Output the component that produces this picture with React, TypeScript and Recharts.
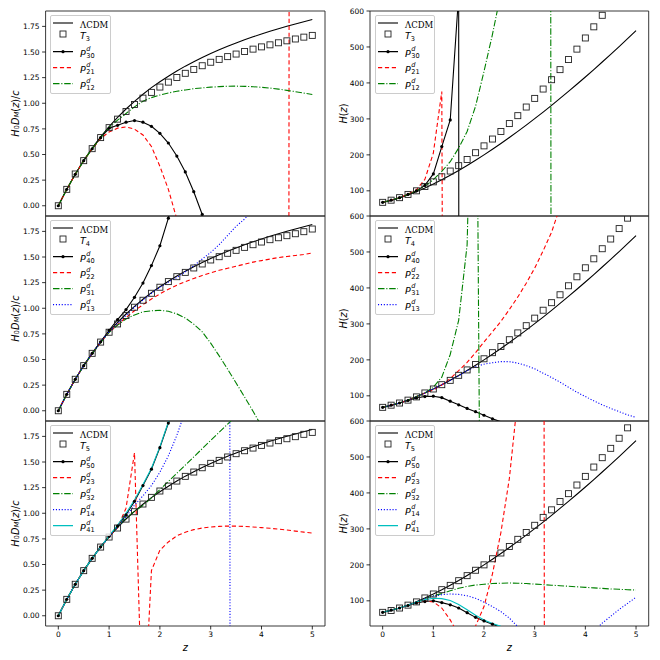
import { ComposedChart, Legend, Line, ReferenceArea, XAxis, YAxis } from "recharts";

const SANS = '"DejaVu Sans", sans-serif';
const SERIF = '"DejaVu Serif", serif';

// redshift grid shared by every curve (step 1/6)
const Z = [0, 0.1667, 0.3333, 0.5, 0.6667, 0.8333, 1, 1.1667, 1.3333, 1.5, 1.6667, 1.8333, 2, 2.1667, 2.3333, 2.5, 2.6667, 2.8333, 3, 3.1667, 3.3333, 3.5, 3.6667, 3.8333, 4, 4.1667, 4.3333, 4.5, 4.6667, 4.8333, 5];

const X_TICKS = [0, 1, 2, 3, 4, 5];
const D_TICKS = [0, 0.25, 0.5, 0.75, 1, 1.25, 1.5, 1.75];
const H_TICKS = [100, 200, 300, 400, 500, 600];

type Val = number | null;

// H0 D_M(z) / c
const LCDM_D: Val[] = [0, 0.16, 0.307, 0.441, 0.562, 0.672, 0.772, 0.862, 0.944, 1.019, 1.088, 1.152, 1.21, 1.264, 1.315, 1.362, 1.405, 1.446, 1.485, 1.521, 1.555, 1.588, 1.619, 1.648, 1.675, 1.702, 1.727, 1.751, 1.774, 1.796, 1.817];
const T3_D: Val[] = [0, 0.16, 0.31, 0.44, 0.557, 0.665, 0.762, 0.845, 0.92, 0.988, 1.05, 1.106, 1.158, 1.206, 1.251, 1.292, 1.33, 1.366, 1.4, 1.428, 1.455, 1.48, 1.505, 1.528, 1.55, 1.57, 1.59, 1.609, 1.627, 1.645, 1.662];
const P30_D: Val[] = [0, 0.16, 0.307, 0.44, 0.556, 0.664, 0.756, 0.785, 0.815, 0.831, 0.815, 0.775, 0.707, 0.612, 0.485, 0.33, 0.137, -0.085, -0.35];
const P21_D: Val[] = [0, 0.16, 0.307, 0.44, 0.555, 0.655, 0.72, 0.757, 0.769, 0.747, 0.69, 0.578, 0.385, 0.16, -0.13, -0.45, null, null, null, null, null, null, null, null, null, null, null, -24, 76];
const P12_D: Val[] = [0, 0.16, 0.307, 0.44, 0.556, 0.665, 0.765, 0.835, 0.9, 0.965, 1.02, 1.055, 1.08, 1.1, 1.117, 1.13, 1.142, 1.15, 1.157, 1.162, 1.166, 1.167, 1.165, 1.161, 1.156, 1.148, 1.138, 1.126, 1.113, 1.099, 1.085];

const T4_D: Val[] = [0, 0.16, 0.307, 0.44, 0.56, 0.67, 0.766, 0.847, 0.929, 1.01, 1.078, 1.146, 1.205, 1.26, 1.308, 1.35, 1.393, 1.432, 1.471, 1.503, 1.536, 1.565, 1.594, 1.62, 1.646, 1.669, 1.688, 1.708, 1.727, 1.747, 1.773];
const P40_D: Val[] = [0, 0.16, 0.307, 0.44, 0.56, 0.672, 0.785, 0.89, 0.987, 1.107, 1.246, 1.416, 1.61, 1.879, 2.2];
const P22_D: Val[] = [0, 0.16, 0.307, 0.44, 0.555, 0.665, 0.765, 0.84, 0.91, 0.975, 1.035, 1.09, 1.14, 1.185, 1.225, 1.26, 1.29, 1.32, 1.345, 1.37, 1.39, 1.41, 1.43, 1.45, 1.465, 1.48, 1.495, 1.505, 1.515, 1.525, 1.54];
const P31_D: Val[] = [0, 0.16, 0.307, 0.44, 0.555, 0.665, 0.765, 0.835, 0.895, 0.935, 0.965, 0.975, 0.98, 0.97, 0.945, 0.905, 0.845, 0.77, 0.66, 0.535, 0.405, 0.27, 0.135, -0.005, -0.15];
const P13_D: Val[] = [0, 0.16, 0.307, 0.44, 0.56, 0.67, 0.77, 0.85, 0.93, 1.01, 1.08, 1.145, 1.205, 1.255, 1.3, 1.355, 1.415, 1.48, 1.545, 1.62, 1.71, 1.8, 1.87, 1.96, 2.06];

const T5_D: Val[] = [0, 0.16, 0.307, 0.44, 0.56, 0.67, 0.768, 0.856, 0.943, 1.015, 1.09, 1.155, 1.217, 1.265, 1.314, 1.36, 1.402, 1.444, 1.487, 1.516, 1.549, 1.581, 1.61, 1.636, 1.662, 1.685, 1.708, 1.727, 1.747, 1.77, 1.789];
const P50_D: Val[] = [0, 0.16, 0.307, 0.44, 0.56, 0.672, 0.775, 0.875, 0.985, 1.116, 1.27, 1.43, 1.64, 1.88, 2.15];
const P23_D: Val[] = [0, 0.16, 0.307, 0.44, 0.56, 0.67, 0.77, 0.86, 1.05, 1.59, -1.23, 0.44, 0.64, 0.72, 0.78, 0.815, 0.84, 0.856, 0.866, 0.872, 0.875, 0.874, 0.871, 0.866, 0.86, 0.853, 0.845, 0.836, 0.826, 0.816, 0.806];
const P32_D: Val[] = [0, 0.16, 0.307, 0.44, 0.56, 0.67, 0.77, 0.865, 0.955, 1.02, 1.075, 1.15, 1.23, 1.31, 1.39, 1.47, 1.55, 1.63, 1.71, 1.79, 1.87, 1.95];
const P14_D: Val[] = [0, 0.16, 0.307, 0.44, 0.56, 0.67, 0.77, 0.865, 0.965, 1.08, 1.17, 1.27, 1.4, 1.56, 1.76, 2.0, null, null, null, null, 28, -72];
const P41_D: Val[] = [0, 0.16, 0.307, 0.44, 0.56, 0.672, 0.78, 0.885, 1.0, 1.13, 1.28, 1.44, 1.65, 1.89, 2.16];

// H(z)
const LCDM_H: Val[] = [67.4, 73.1, 80.1, 88.2, 97.4, 107.6, 118.7, 130.5, 143.1, 156.4, 170.4, 184.9, 199.9, 215.6, 231.6, 248.2, 265.3, 282.8, 300.7, 319, 337.7, 356.9, 376.4, 396.3, 416.6, 437.2, 458.1, 479.5, 501.2, 523.1, 545.5];
const T3_H: Val[] = [68, 74, 81, 90, 100, 112, 125, 139, 155, 170, 187, 206, 225, 244, 265, 287, 309, 333, 357, 383, 409, 437, 465, 494, 525, 556, 588];
const P30_H: Val[] = [68, 74, 81, 90, 100, 115, 147, 223, 297, 645, -50000];
const P21_H: Val[] = [68, 74, 81, 91, 103, 132, 205, 376, -6000];
const P12_H: Val[] = [68, 74, 81, 90, 100, 113, 131, 154, 181, 219, 265, 335, 432, 535, 650, 850, 1150, 1700, 3000, 20000, -1500];

const T4_H: Val[] = [68, 74, 80, 88, 97, 108, 119, 131, 143, 157, 172, 187, 203, 220, 237, 256, 275, 295, 316, 338, 359, 381, 406, 431, 456, 481, 509, 536, 565, 594];
const P40_H: Val[] = [68, 74, 80, 87, 94, 98, 99, 95, 85, 75, 65, 56, 46, 36, 28, 20];
const P22_H: Val[] = [68, 74, 80, 88, 98, 108, 116, 130, 148, 170, 193, 220, 250, 278, 307, 340, 375, 413, 455, 503, 555, 625];
const P31_H: Val[] = [68, 74, 80, 88, 98, 108, 124, 152, 215, 310, 520, 1500, -1800];
const P13_H: Val[] = [68, 74, 80, 88, 97, 108, 119, 131, 143, 156, 170, 181, 188, 192, 195, 195, 191, 184, 175, 163, 151, 138, 124, 110, 98, 86, 75, 65, 56, 47, 40];

const T5_H: Val[] = [68, 73, 80, 88, 97, 108, 119, 131, 143, 156, 170, 185, 200, 217, 233, 251, 271, 290, 310, 332, 353, 376, 398, 422, 446, 472, 498, 524, 552, 581];
const P50_H: Val[] = [68, 74, 80, 87, 94, 98, 100, 95, 89, 80, 67, 54, 44, 35, 27, 20];
const P23_H: Val[] = [68, 74, 80, 88, 95, 99, 97, 80, 47, 5, -20, 30, 84, 175, 290, 440, 665, 1000, 1600, 3000, -18000];
const P32_H: Val[] = [68, 74, 80, 88, 97, 106, 114, 120, 128, 135, 140, 144, 146, 148, 149, 149.5, 149, 148, 146.5, 145, 143.5, 142, 140.5, 139, 137.5, 136, 134.5, 133, 132, 131, 130];
const P14_H: Val[] = [68, 74, 80, 88, 97, 106, 113, 117, 119, 118, 114, 107, 96, 84, 70, 52, 28, 5, -15, -30, -40, -42, -35, -20, -3, 15, 38, 57, 76, 93, 110];
const P41_H: Val[] = [68, 74, 80, 88, 96, 103, 107, 106, 101, 90, 75, 60, 47, 37, 29, 24];

const LABELS_3 = ["ΛCDM", "T_3", "P^d_30", "P^d_21", "P^d_12"];
const LABELS_4 = ["ΛCDM", "T_4", "P^d_40", "P^d_22", "P^d_31", "P^d_13"];
const LABELS_5 = ["ΛCDM", "T_5", "P^d_50", "P^d_23", "P^d_32", "P^d_14", "P^d_41"];

type Kind = "lcdm" | "squares" | "dots" | "dashed" | "dashdot" | "dotted" | "cyan";
const KINDS: Kind[] = ["lcdm", "squares", "dots", "dashed", "dashdot", "dotted", "cyan"];

const KIND_STYLE: Record<Kind, { color: string; dash?: string }> = {
  lcdm: { color: "#000" },
  squares: { color: "#000" },
  dots: { color: "#000" },
  dashed: { color: "#ff0000", dash: "4.2 2.7" },
  dashdot: { color: "#008000", dash: "6.5 1.8 1.1 1.8" },
  dotted: { color: "#0000ff", dash: "1.1 1.8" },
  cyan: { color: "#00bfbf" },
};

const PANEL_TOPS = [11, 216, 421];
const PANEL_H = 205;
const TOP_PAD = 8;
const LEGEND_ROWS = [7.5, 19.2, 36.5, 52.5, 68.5, 84.5, 100.5];

interface Column {
  left: number;
  yWidth: number;
  right: number;
  domain: [number, number];
  ticks: number[];
  fmt: (v: number) => string;
  titleX: number;
  legendX: number;
  legendW: number;
  kind: "D" | "H";
}

const COLS: Column[] = [
  { left: 0, yWidth: 45.6, right: 5, domain: [-0.1, 1.9], ticks: D_TICKS, fmt: (v) => v.toFixed(2), titleX: 15, legendX: 50, legendW: 61, kind: "D" },
  { left: 330, yWidth: 40, right: 11.3, domain: [30, 600], ticks: H_TICKS, fmt: (v) => String(v), titleX: 12.7, legendX: 45, legendW: 60, kind: "H" },
];

const PANELS: { labels: string[]; d: Val[][]; h: Val[][] }[] = [
  { labels: LABELS_3, d: [LCDM_D, T3_D, P30_D, P21_D, P12_D], h: [LCDM_H, T3_H, P30_H, P21_H, P12_H] },
  { labels: LABELS_4, d: [LCDM_D, T4_D, P40_D, P22_D, P31_D, P13_D], h: [LCDM_H, T4_H, P40_H, P22_H, P31_H, P13_H] },
  { labels: LABELS_5, d: [LCDM_D, T5_D, P50_D, P23_D, P32_D, P14_D, P41_D], h: [LCDM_H, T5_H, P50_H, P23_H, P32_H, P14_H, P41_H] },
];

const squareDot = (lo: number, hi: number) => (p: any) => {
  const { cx, cy, value, index } = p;
  if (typeof value !== "number" || value < lo || value > hi || cx == null || cy == null)
    return <g key={`s${index}`} />;
  return <rect key={`s${index}`} x={cx - 3} y={cy - 3} width={6} height={6} fill="none" stroke="#222" strokeWidth={0.9} />;
};

const roundDot = (lo: number, hi: number) => (p: any) => {
  const { cx, cy, value, index } = p;
  if (typeof value !== "number" || value < lo || value > hi || cx == null || cy == null)
    return <g key={`c${index}`} />;
  return <circle key={`c${index}`} cx={cx} cy={cy} r={1.6} fill="#000" />;
};

function MathLabel({ text }: { text: string }) {
  if (text === "ΛCDM")
    return <span style={{ fontFamily: SERIF, fontSize: 8.5 }}>ΛCDM</span>;
  const m = text.match(/^([A-Z])(?:\^(\w))?(?:_(\w+))?$/);
  if (!m) return <span>{text}</span>;
  const [, base, sup, sub] = m;
  return (
    <span style={{ fontFamily: SANS, fontSize: 9.5, display: "inline-flex", alignItems: "center" }}>
      <span style={{ fontStyle: "italic" }}>{base}</span>
      {sup ? (
        <span style={{ display: "inline-flex", flexDirection: "column", fontSize: 6.6, lineHeight: "7px", marginLeft: 0.5 }}>
          <span style={{ fontStyle: "italic" }}>{sup}</span>
          <span>{sub}</span>
        </span>
      ) : (
        <span style={{ fontSize: 6.6, position: "relative", top: 3 }}>{sub}</span>
      )}
    </span>
  );
}

function Handle({ kind }: { kind: Kind }) {
  const st = KIND_STYLE[kind];
  return (
    <svg width={20} height={10} style={{ display: "block" }}>
      {kind === "squares" ? (
        <rect x={7} y={2} width={6} height={6} fill="none" stroke="#222" strokeWidth={0.9} />
      ) : (
        <line x1={0} y1={5} x2={20} y2={5} stroke={st.color} strokeWidth={1.1} strokeDasharray={st.dash} />
      )}
      {kind === "dots" && <circle cx={10} cy={5} r={1.6} fill="#000" />}
    </svg>
  );
}

function LegendBox({ labels, width }: { labels: string[]; width: number }) {
  const height = LEGEND_ROWS[labels.length - 1] + 10.5;
  return (
    <div
      style={{
        position: "relative",
        width,
        height,
        boxSizing: "border-box",
        border: "1px solid #cccccc",
        borderRadius: 2,
        background: "rgba(255,255,255,0.8)",
      }}
    >
      {labels.map((label, i) => (
        <div
          key={label}
          style={{
            position: "absolute",
            left: 2,
            top: LEGEND_ROWS[i] - 1,
            transform: "translateY(-50%)",
            display: "flex",
            alignItems: "center",
            lineHeight: 1,
            color: "#000",
          }}
        >
          <Handle kind={KINDS[i]} />
          <span style={{ marginLeft: 7 }}>
            <MathLabel text={label} />
          </span>
        </div>
      ))}
    </div>
  );
}

function Panel({ row, col }: { row: number; col: number }) {
  const c = COLS[col];
  const panel = PANELS[row];
  const values = c.kind === "D" ? panel.d : panel.h;
  const bottomRow = row === 2;
  const height = TOP_PAD + PANEL_H + (bottomRow ? 30 : 4);
  const width = 330;
  const [lo, hi] = c.domain;
  const plotW = width - c.yWidth - c.right;

  const data = Z.map((z, i) => {
    const r: Record<string, number | null> = { z };
    values.forEach((arr, j) => {
      r[`s${j}`] = arr[i] ?? null;
    });
    return r;
  });

  const midY = TOP_PAD + PANEL_H / 2;
  const tx = c.titleX;

  return (
    <div style={{ position: "absolute", left: c.left, top: PANEL_TOPS[row] - TOP_PAD }}>
      <ComposedChart
        width={width}
        height={height}
        data={data}
        margin={{ top: TOP_PAD, right: c.right, bottom: bottomRow ? 0 : 4, left: 0 }}
      >
        <XAxis
          dataKey="z"
          type="number"
          domain={[-0.25, 5.25]}
          allowDataOverflow
          ticks={X_TICKS}
          interval={0}
          hide={!bottomRow}
          height={30}
          axisLine={false}
          tickSize={3.5}
          tickMargin={2.6}
          tickLine={{ stroke: "#000", strokeWidth: 0.8 }}
          tick={{ fontSize: 7.5, fill: "#000", fontFamily: SANS }}
        />
        <YAxis
          type="number"
          domain={c.domain}
          allowDataOverflow
          ticks={c.ticks}
          interval={0}
          width={c.yWidth}
          axisLine={false}
          tickSize={3.5}
          tickMargin={2.5}
          tickFormatter={c.fmt}
          tickLine={{ stroke: "#000", strokeWidth: 0.8 }}
          tick={{ fontSize: 7.5, fill: "#000", fontFamily: SANS }}
        />
        {values.map((_, j) => {
          const kind = KINDS[j];
          const st = KIND_STYLE[kind];
          const key = `s${j}`;
          if (kind === "squares")
            return (
              <Line
                key={key}
                dataKey={key}
                stroke="none"
                dot={squareDot(lo, hi)}
                activeDot={false}
                legendType="none"
                isAnimationActive={false}
              />
            );
          return (
            <Line
              key={key}
              dataKey={key}
              type="linear"
              stroke={st.color}
              strokeWidth={1.1}
              strokeDasharray={st.dash}
              dot={kind === "dots" ? roundDot(lo, hi) : false}
              activeDot={false}
              legendType="none"
              isAnimationActive={false}
            />
          );
        })}
        <ReferenceArea
          x1={-0.25}
          x2={5.25}
          y1={lo}
          y2={hi}
          fill="none"
          stroke="#222"
          strokeWidth={0.9}
          ifOverflow="visible"
        />
        {c.kind === "D" ? (
          <text
            x={tx}
            y={midY}
            transform={`rotate(-90 ${tx} ${midY})`}
            textAnchor="middle"
            dominantBaseline="central"
            fontFamily={SANS}
            fontSize={9.75}
          >
            <tspan fontStyle="italic">H</tspan>
            <tspan fontSize={6.8} dy={2.2}>0</tspan>
            <tspan fontStyle="italic" dy={-2.2}>D</tspan>
            <tspan fontStyle="italic" fontSize={6.8} dy={2.2}>M</tspan>
            <tspan dy={-2.2}>(</tspan>
            <tspan fontStyle="italic">z</tspan>
            <tspan>)/</tspan>
            <tspan fontStyle="italic">c</tspan>
          </text>
        ) : (
          <text
            x={tx}
            y={midY}
            transform={`rotate(-90 ${tx} ${midY})`}
            textAnchor="middle"
            dominantBaseline="central"
            fontFamily={SANS}
            fontSize={9.75}
          >
            <tspan fontStyle="italic">H</tspan>
            <tspan>(</tspan>
            <tspan fontStyle="italic">z</tspan>
            <tspan>)</tspan>
          </text>
        )}
        {bottomRow && (
          <text
            x={c.yWidth + plotW / 2}
            y={TOP_PAD + PANEL_H + 21.5}
            textAnchor="middle"
            dominantBaseline="central"
            fontFamily={SANS}
            fontStyle="italic"
            fontSize={9.75}
          >
            z
          </text>
        )}
        <Legend
          layout="vertical"
          align="center"
          verticalAlign="middle"
          wrapperStyle={{ left: c.legendX, top: TOP_PAD + 4, width: c.legendW }}
          content={() => <LegendBox labels={panel.labels} width={c.legendW} />}
        />
      </ComposedChart>
    </div>
  );
}

export default function App() {
  return (
    <div style={{ position: "absolute", left: 0, top: 0, width: 660, height: 660, background: "#fff" }}>
      {[0, 1, 2].map((row) =>
        [0, 1].map((col) => <Panel key={`${row}-${col}`} row={row} col={col} />),
      )}
    </div>
  );
}
